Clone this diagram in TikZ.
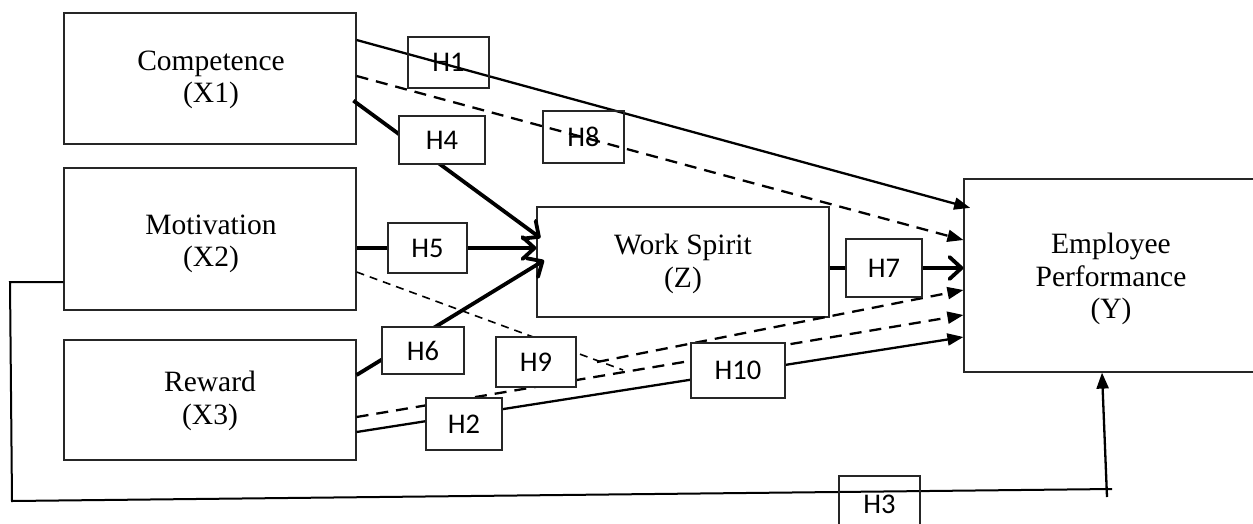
\documentclass[tikz,border=0pt]{standalone}
\usepackage{fontspec}
\setmainfont{Liberation Serif}
\newfontfamily\hfont{Carlito}
\usetikzlibrary{arrows.meta}
\begin{document}
\begin{tikzpicture}[x=1pt,y=-1pt,
  var/.style={draw=black!85, line width=1.2pt, rectangle, inner sep=0pt},
  vtext/.style={align=center, font=\fontsize{29.5}{32.5}\selectfont, inner sep=0pt},
  hbox/.style={draw=black!85, line width=1.2pt, inner sep=0pt, font=\hfont\fontsize{28.5}{30}\selectfont},
  hfill/.style={hbox, fill=white},
  conn/.style={line width=2.3pt, -{Triangle[length=16pt,width=12pt]}},
  dconn/.style={conn, dash pattern=on 12pt off 8pt},
  boldconn/.style={line width=3.8pt, -{Straight Barb[length=12pt,width=22pt,round]}},
  thindash/.style={line width=1.6pt, dash pattern=on 8pt off 6pt},
  bracket/.style={line width=2pt}
]
\useasboundingbox (0,0) rectangle (1253,523);
\clip (0,0) rectangle (1253,523);

% variable boxes
\node[var, minimum width=292pt, minimum height=131pt] (X1) at (210,78.5) {};
\node[vtext] (tX1) at (211,80) {Competence\\(X1)};
\node[var, minimum width=292pt, minimum height=142pt] (X2) at (210,239) {};
\node[vtext] (tX2) at (211,244) {Motivation\\(X2)};
\node[var, minimum width=292pt, minimum height=120pt] (X3) at (210,400) {};
\node[vtext] (tX3) at (210,401) {Reward\\(X3)};
\node[var, minimum width=292pt, minimum height=110pt] (Z) at (683,262) {};
\node[vtext] (tZ) at (683,264) {Work Spirit\\(Z)};
\node[var, minimum width=294pt, minimum height=193pt] (Y) at (1111,275.5) {};
\node[vtext] (tY) at (1111,279) {Employee\\Performance\\(Y)};

% connectors
\draw[conn, shorten >=-7pt] (X1.east |- 0,40) -- (Y.west |- 0,206);
\draw[dconn] (X1.east |- 0,76) -- (Y.west |- 0,240);
\draw[boldconn, shorten <=-4pt, shorten >=-5pt] (X1.east |- 0,103) -- (Z.west |- 0,235);
\draw[boldconn] (X2.east |- 0,248) -- (Z.west |- 0,248);
\draw[boldconn, shorten >=-9pt] (X3.east |- 0,375) -- (Z.west |- 0,265);
\coordinate (j9) at (623,370);
\coordinate (s9) at (597,362);
\draw[thindash] (X2.east |- 0,272) -- (j9);
\draw[dconn] (s9) -- (Y.west |- 0,290);
\draw[dconn] (X3.east |- 0,417) -- (Y.west |- 0,315);
\draw[conn] (X3.east |- 0,432) -- (Y.west |- 0,337);
\draw[boldconn] (Z.east |- 0,268) -- (Y.west |- 0,268);
\coordinate (b1) at (10,282);
\coordinate (b2) at (12,501);
\coordinate (b3) at (1112,489);
\coordinate (b4) at (1107,497);
\draw[bracket] (X2.west |- 0,282) -- (b1) -- (b2) -- (b3);
\draw[conn] (b4) -- (1102,0 |- Y.south);

% hypothesis labels
\node[hbox, minimum width=81pt, minimum height=51pt] (H1) at (448.5,62.5) {H1};
\node[hfill, minimum width=86pt, minimum height=48pt] (H4) at (442,140) {H4};
\node[hbox, minimum width=81pt, minimum height=52pt] (H8) at (583.5,137) {H8};
\node[hfill, minimum width=79pt, minimum height=50pt] (H5) at (427.5,248) {H5};
\node[hfill, minimum width=82pt, minimum height=47pt] (H6) at (423,350.5) {H6};
\node[hfill, minimum width=80pt, minimum height=50pt] (H9) at (536,362) {H9};
\node[hfill, minimum width=94pt, minimum height=55pt] (H10) at (738,370.5) {H10};
\node[hfill, minimum width=76pt, minimum height=52pt] (H2) at (464,424) {H2};
\node[hfill, minimum width=76pt, minimum height=58pt] (H7) at (884,268) {H7};
\node[hbox, minimum width=81pt, minimum height=56pt] (H3) at (879.5,504) {H3};
\end{tikzpicture}
\end{document}
